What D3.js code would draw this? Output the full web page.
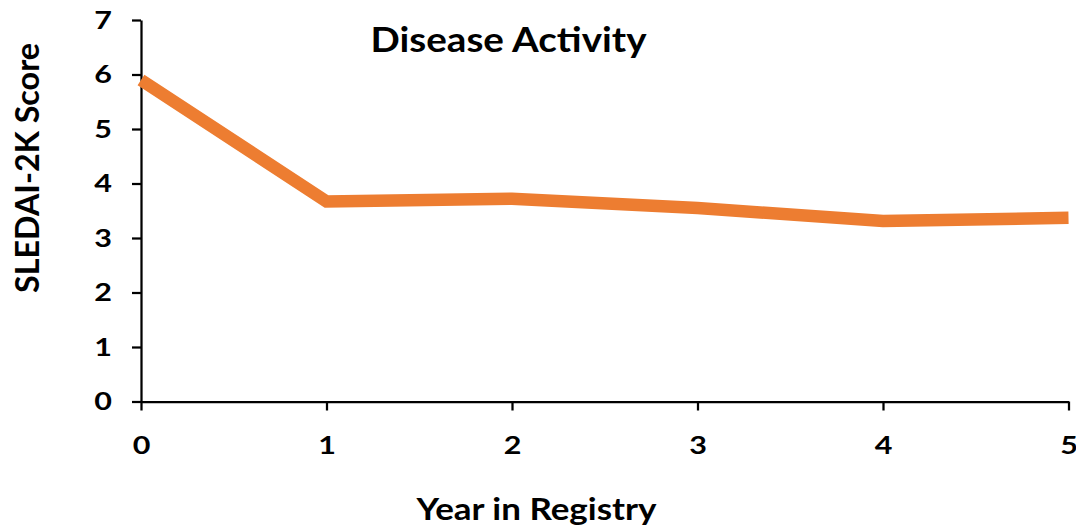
<!DOCTYPE html>
<html>
<head>
<meta charset="utf-8">
<script src="https://cdn.jsdelivr.net/npm/d3@7/dist/d3.min.js"></script>
<style>
  html, body { margin: 0; padding: 0; background: #fff; }
  svg { display: block; }
  text { font-family: Lato, "Open Sans", sans-serif; font-weight: 700; fill: #000; }
</style>
</head>
<body>
<svg id="chart" width="1076" height="529"></svg>
<script>
// Mean SLEDAI-2K score per year in the registry
const years = [0, 1, 2, 3, 4, 5];
const scores = [5.9, 3.67, 3.72, 3.55, 3.31, 3.37];
const yTicks = [0, 1, 2, 3, 4, 5, 6, 7];
const titleText = "Disease Activity";
const xLabel = "Year in Registry";
const yLabel = "SLEDAI-2K Score";

const svg = d3.select("#chart");
const plot = { left: 141, right: 1068.5, top: 20, bottom: 401.5 };

const x = d3.scaleLinear().domain([0, 5]).range([plot.left, plot.right]);
const y = d3.scaleLinear().domain([0, 7]).range([plot.bottom, plot.top]);

function styleAxis(g) {
  g.select(".domain").attr("stroke", "#000").attr("stroke-width", 2.25);
  g.selectAll(".tick line").attr("stroke", "#000").attr("stroke-width", 2.25);
  g.selectAll(".tick text")
    .attr("font-size", 25)
    .attr("font-family", "Lato, 'Open Sans', sans-serif")
    .attr("font-weight", 700)
    .attr("fill", "#000")
    .each(function () {
      // slightly wider digits
      const w = this.getComputedTextLength();
      d3.select(this).attr("textLength", w * 1.22).attr("lengthAdjust", "spacingAndGlyphs");
    });
}

// y axis
svg.append("g")
  .attr("transform", `translate(${plot.left},0)`)
  .call(d3.axisLeft(y).tickValues(yTicks).tickFormat(d3.format("d"))
    .tickSize(9).tickSizeOuter(0).tickPadding(20))
  .call(styleAxis);

// x axis
svg.append("g")
  .attr("transform", `translate(0,${plot.bottom})`)
  .call(d3.axisBottom(x).tickValues(years).tickFormat(d3.format("d"))
    .tickSize(9).tickSizeOuter(0).tickPadding(26))
  .call(styleAxis);

// score line
const line = d3.line().x((d, i) => x(years[i])).y(d => y(d));
svg.append("path")
  .datum(scores)
  .attr("d", line)
  .attr("fill", "none")
  .attr("stroke", "#ED7D31")
  .attr("stroke-width", 12.5)
  .attr("stroke-linejoin", "miter");

// titles (wide bold lettering)
svg.append("text")
  .attr("x", 508.5).attr("y", 52)
  .attr("text-anchor", "middle")
  .attr("font-size", 35)
  .attr("textLength", 276)
  .attr("lengthAdjust", "spacingAndGlyphs")
  .text(titleText);

svg.append("text")
  .attr("x", 536.5).attr("y", 520)
  .attr("text-anchor", "middle")
  .attr("font-size", 31)
  .attr("textLength", 240)
  .attr("lengthAdjust", "spacingAndGlyphs")
  .text(xLabel);

svg.append("text")
  .attr("transform", "translate(39,168) rotate(-90)")
  .attr("text-anchor", "middle")
  .attr("font-size", 33)
  .attr("textLength", 250)
  .attr("lengthAdjust", "spacingAndGlyphs")
  .text(yLabel);
</script>
</body>
</html>
